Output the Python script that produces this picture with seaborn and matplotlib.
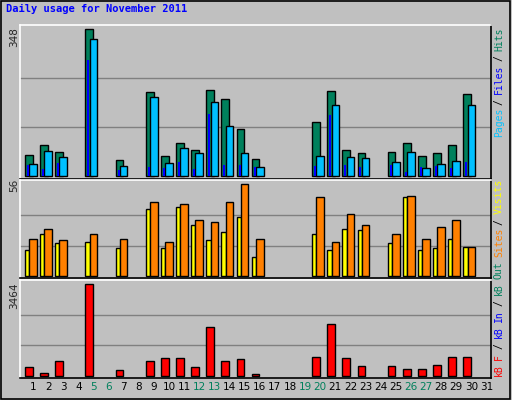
import numpy as np
import pandas as pd
import matplotlib
matplotlib.use("Agg")
import matplotlib.pyplot as plt
import seaborn as sns

# daily values (0 = no traffic that day)
days = list(range(1, 32))
hits = [50, 74, 57, 0, 348, 0, 39, 0, 200, 48, 79, 62, 205, 183, 112, 41,
        0, 0, 0, 128, 202, 62, 55, 0, 57, 79, 48, 55, 74, 194, 0]
files = [29, 60, 46, 0, 324, 0, 24, 0, 187, 31, 67, 55, 175, 119, 55, 22,
         0, 0, 0, 48, 168, 46, 43, 0, 34, 57, 20, 29, 36, 168, 0]
pages = [27, 17, 31, 0, 275, 0, 15, 0, 22, 20, 34, 17, 147, 27, 27, 22,
         0, 0, 0, 24, 145, 27, 22, 0, 27, 10, 22, 24, 20, 34, 0]
visits = [16, 26, 20, 0, 21, 0, 17, 0, 41, 17, 42, 31, 22, 27, 36, 12,
          0, 0, 0, 26, 16, 29, 28, 0, 20, 48, 16, 17, 23, 18, 0]
sites = [23, 29, 22, 0, 26, 0, 23, 0, 45, 21, 44, 34, 33, 45, 56, 23,
         0, 0, 0, 48, 21, 38, 31, 0, 26, 49, 23, 30, 34, 18, 0]
kbytes = [316, 88, 543, 0, 3464, 0, 202, 0, 543, 657, 657, 316, 1833, 543, 619, 50,
          0, 0, 0, 695, 1947, 657, 354, 0, 354, 240, 240, 392, 695, 695, 0]
weekend = [5, 6, 12, 13, 19, 20, 26, 27]

df = pd.DataFrame({"day": days, "hits": hits, "files": files, "pages": pages,
                   "visits": visits, "sites": sites, "kbytes": kbytes})
df = df[df.hits > 0]

GREEN = "#00805c"
BLUE = "#0000ff"
CYAN = "#00c0ff"
YELLOW = "#ffff00"
ORANGE = "#ff8000"
RED = "#ff0000"
BG = "#c0c0c0"
MONO = "DejaVu Sans Mono"

sns.set_style("white")
plt.rcParams["font.family"] = [MONO]

W, H = 512, 400
fig = plt.figure(figsize=(W / 100, H / 100), dpi=100, facecolor=BG)


def panel(top, bottom):
    ax = fig.add_axes([20 / W, 1 - bottom / H, 471 / W, (bottom - top) / H], facecolor=BG)
    ax.set_xlim(0.14, 31.3)
    ax.set_xticks([])
    ax.set_yticks([])
    for s in ["top", "left"]:
        ax.spines[s].set_color("white")
    for s in ["bottom", "right"]:
        ax.spines[s].set_color("black")
    for s in ax.spines.values():
        s.set_linewidth(1.2)
    return ax


def bars(ax, col, left, right, color):
    ax.bar(df.day + left, df[col], width=right - left, align="edge",
           color=color, edgecolor="black", linewidth=1, zorder=3)


def grid(ax, vmax):
    for f in (1 / 3, 2 / 3):
        ax.axhline(vmax * f, color="#808080", lw=1, zorder=1)


# top panel: hits / files / pages
ax1 = panel(24.7, 178.6)
ax1.set_ylim(-5, 359)
grid(ax1, 348)
bars(ax1, "hits", -0.53, -0.02, GREEN)
bars(ax1, "files", -0.25, 0.25, CYAN)
ax1.bar(df.day - 0.4, df.pages, width=0.13, align="edge", color=BLUE, linewidth=0, zorder=4)

# middle panel: visits / sites
ax2 = panel(179.7, 277.7)
ax2.set_ylim(-0.85, 58.8)
grid(ax2, 56)
bars(ax2, "visits", -0.53, -0.25, YELLOW)
bars(ax2, "sites", -0.25, 0.25, ORANGE)

# bottom panel: kB
ax3 = panel(279.7, 377.7)
ax3.set_ylim(-76, 3638)
grid(ax3, 3464)
bars(ax3, "kbytes", -0.53, -0.02, RED)

# day labels
for d in days:
    ax3.text(d, -0.09, str(d), transform=ax3.get_xaxis_transform(), ha="center", va="center",
             fontsize=7.5, color=GREEN if d in weekend else "black", family="DejaVu Sans")

# max labels on the left
for txt, y in [("348", 37), ("56", 185), ("3464", 296)]:
    fig.text(14 / W, 1 - y / H, txt, rotation=90, ha="center", va="center", fontsize=7.5,
             family="DejaVu Sans")

# legends on the right, reading bottom to top
CH = 5.4  # px per character


def side_label(parts, y_bottom):
    y = y_bottom
    for word, color in parts:
        fig.text(499 / W, 1 - y / H, word, rotation=90, ha="center", va="bottom",
                 fontsize=7, color=color, family=MONO)
        y -= (len(word) + 1) * CH


side_label([("Pages", CYAN), ("/", "black"), ("Files", BLUE), ("/", "black"), ("Hits", GREEN)], 137)
side_label([("Sites", ORANGE), ("/", "black"), ("Visits", YELLOW)], 257)
side_label([("kB", RED), ("F", RED), ("/", "black"), ("kB", BLUE), ("In", BLUE), ("/", "black"),
            ("kB", GREEN), ("Out", GREEN)], 376)

fig.text(6 / W, 1 - 9 / H, "Daily usage for November 2011", ha="left", va="center",
         fontsize=7.5, weight="bold", color=BLUE, family=MONO)

# outer frame
fig.patches.append(plt.Rectangle((0.002, 0.003), 0.995, 0.995, transform=fig.transFigure,
                                 fill=False, edgecolor="black", lw=1.2))

fig.savefig("out.png", dpi=100, facecolor=BG)
